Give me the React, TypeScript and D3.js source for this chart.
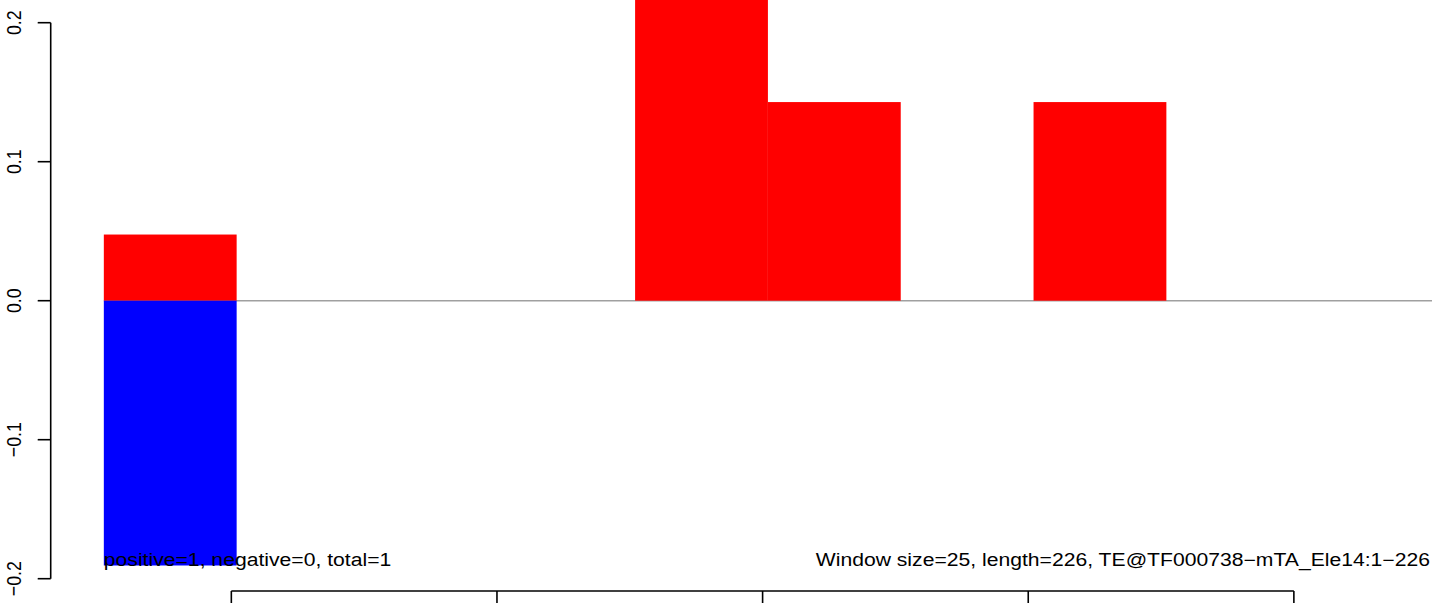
import React from "react";
import * as d3 from "d3";

const windowSize = 25;
const seqLength = 226;
const positiveValues = [0.0476, 0, 0, 0, 0.2857, 0.1429, 0, 0.1429, 0, 0];
const negativeValues = [-0.1905, 0, 0, 0, 0, 0, 0, 0, 0, 0];
const yTicks = [-0.2, -0.1, 0, 0.1, 0.2];
const xTicks = [25, 75, 125, 175, 225];
const leftLabel = "positive=1, negative=0, total=1";
const rightLabel = "Window size=25, length=226, TE@TF000738\u2212mTA_Ele14:1\u2212226";

const W = 1444;
const H = 607;
const FONT = "'Liberation Sans', Arial, Helvetica, sans-serif";
const FS = 17.75;
const SX = 1.192;
const SW = 1.6;

export default function App() {
  const x = d3.scaleLinear().domain([-9, 251]).range([50.7, 1432]);
  const y = d3.scaleLinear().domain([-0.2, 0.2]).range([578.7, 22.7]);
  const fmt = (v: number) => (v < 0 ? "\u2212" : "") + Math.abs(v).toFixed(1);
  const axisX = x.range()[0];
  const baseY = 591;
  const textY = 566;

  const bars = positiveValues.map((p, i) => ({
    x0: x(1 + i * windowSize),
    x1: x(1 + (i + 1) * windowSize),
    p,
    n: negativeValues[i],
  }));

  return (
    <div style={{ position: "absolute", left: 0, top: 0 }}>
      <svg width={W} height={H} style={{ display: "block", background: "#fff" }}>
        <line x1={x(1)} x2={x.range()[1]} y1={y(0)} y2={y(0)} stroke="#a0a0a0" strokeWidth={1.4} />
        {bars.map((b, i) => (
          <g key={i}>
            {b.p > 0 && (
              <rect x={b.x0} y={y(b.p)} width={b.x1 - b.x0} height={y(0) - y(b.p)} fill="#ff0000" />
            )}
            {b.n < 0 && (
              <rect x={b.x0} y={y(0)} width={b.x1 - b.x0} height={y(b.n) - y(0)} fill="#0000ff" />
            )}
          </g>
        ))}
        {/* y axis */}
        <line x1={axisX} x2={axisX} y1={y(0.2)} y2={y(-0.2)} stroke="#000" strokeWidth={SW} />
        {yTicks.map((t) => (
          <g key={t}>
            <line x1={axisX - 13} x2={axisX} y1={y(t)} y2={y(t)} stroke="#000" strokeWidth={SW} />
            <text
              transform={`translate(20.5,${y(t)}) scale(${SX},1) rotate(-90)`}
              textAnchor="middle"
              fontFamily={FONT}
              fontSize={FS}
              fill="#000"
            >
              {fmt(t)}
            </text>
          </g>
        ))}
        {/* bottom axis */}
        <line x1={x(xTicks[0])} x2={x(xTicks[xTicks.length - 1])} y1={baseY} y2={baseY} stroke="#000" strokeWidth={SW} />
        {xTicks.map((t) => (
          <line key={t} x1={x(t)} x2={x(t)} y1={baseY} y2={baseY + 12} stroke="#000" strokeWidth={SW} />
        ))}
        <text
          transform={`translate(${x(1)},${textY}) scale(${SX},1)`}
          fontFamily={FONT}
          fontSize={FS}
          fill="#000"
        >
          {leftLabel}
        </text>
        <text
          transform={`translate(1430,${textY}) scale(${SX},1)`}
          textAnchor="end"
          fontFamily={FONT}
          fontSize={FS}
          fill="#000"
          data-length={seqLength}
        >
          {rightLabel}
        </text>
      </svg>
    </div>
  );
}
